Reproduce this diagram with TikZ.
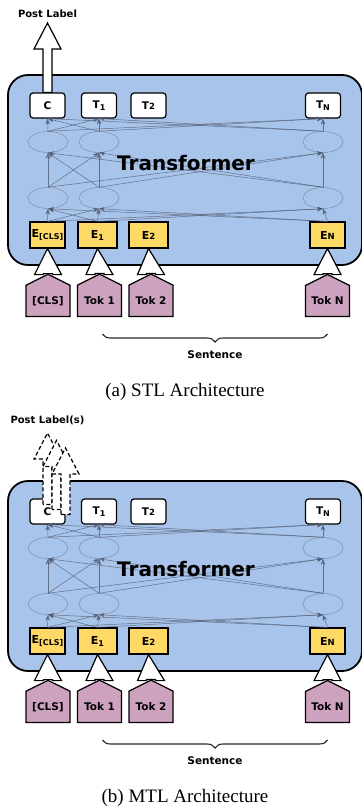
\documentclass[tikz,border=0pt]{standalone}
\usepackage{fontspec}
\newfontfamily\dvsans{DejaVu Sans}
\newfontfamily\capfont{Liberation Serif}
\usepackage{tikz}
\usetikzlibrary{positioning, calc, shapes.geometric, shapes.symbols, arrows.meta, decorations.pathreplacing}
\definecolor{encblue}{RGB}{169,196,235}
\definecolor{embyellow}{RGB}{255,217,102}
\definecolor{tokpink}{RGB}{205,162,190}
\definecolor{hidgray}{RGB}{125,140,170}
\definecolor{linkgray}{RGB}{80,90,112}
\newcommand{\lowtxt}[1]{\raisebox{-2pt}{\fontsize{8}{9}\selectfont #1}}
\newcommand{\smalltxt}[1]{{\fontsize{8.5}{10}\selectfont #1}}
\tikzset{
Encoder/.style={
	draw, line width=1.8pt,
	rounded corners=20pt,
	fill=encblue,
	minimum width=354pt, minimum height=190pt
},
Out/.style={
	draw, line width=1.2pt,
	rounded corners=3pt,
	fill=white,
	minimum width=35pt, minimum height=25pt, inner sep=0pt,
	font=\dvsans\bfseries\fontsize{10.5}{12}\selectfont
},
Hidden/.style={
	draw=hidgray, ellipse, line width=0.5pt,
	minimum width=40pt, minimum height=21pt, inner sep=0pt
},
Emb/.style={
	draw, line width=1.2pt,
	fill=embyellow,
	minimum width=39pt, minimum height=26pt, inner sep=0pt,
	font=\dvsans\bfseries\fontsize{11}{13}\selectfont
},
Tok/.style={
	draw, line width=1.2pt,
	fill=tokpink,
	signal, signal to=north, signal pointer angle=127,
	minimum width=44pt, minimum height=39pt, inner sep=0pt,
	font=\dvsans\bfseries\fontsize{10.5}{12}\selectfont
},
Link/.style={
	draw=linkgray, opacity=0.8, line width=0.5pt,
	-{Stealth[length=6pt, width=4.5pt]}
},
BlockArrow/.style={
	draw, line width=1.2pt, fill=white,
	to path={let \p1=(\tikztostart), \p2=(\tikztotarget) in
		(\x1-4.5pt,\y1) -- (\x1-4.5pt,\y2-26pt) -- (\x1-13.5pt,\y2-26pt) -- (\x2,\y2)
		-- (\x1+13.5pt,\y2-26pt) -- (\x1+4.5pt,\y2-26pt) -- (\x1+4.5pt,\y1) -- cycle}
},
Lab/.style={
	inner sep=1pt,
	font=\dvsans\bfseries\fontsize{10}{12}\selectfont
},
Title/.style={
	inner sep=0pt,
	font=\dvsans\bfseries\fontsize{20}{24}\selectfont
},
Brace/.style={
	draw=black!85, line width=1.1pt,
	decorate, decoration={brace, mirror, amplitude=8pt}
},
Sent/.style={
	midway, below=15pt, inner sep=1pt,
	font=\dvsans\bfseries\fontsize{10.5}{12}\selectfont
},
Caption/.style={
	inner sep=0pt,
	font=\capfont\fontsize{19}{22}\selectfont
}
}

\begin{document}
\begin{tikzpicture}[x=1pt, y=-1pt]
	\useasboundingbox (0,0) rectangle (361,810);
	\foreach \pn/\dy/\lbl/\capt in {a/0/{Post Label}/{(a) STL Architecture}, b/406/{Post Label(s)}/{(b) MTL Architecture}}{
	\begin{scope}[yshift=-\dy pt]
	\node[Encoder] (enc\pn) at (185,170) {};

	% outputs, hidden layers, embeddings
	\node[Out] (oc\pn) at (47.5,105.5) {C};
	\node[Out] (o1\pn) at (99,105.5) {T\lowtxt{1}};
	\node[Out] (o2\pn) at (148.5,105.5) {T\smalltxt{2}};
	\node[Out] (on\pn) at (323,105.5) {T\lowtxt{N}};
	\foreach \col/\xx in {c/48, 1/99, n/323}{
		\node[Hidden] (u\col\pn) at (\xx,142) {};
		\node[Hidden] (l\col\pn) at (\xx,198) {};
	}
	\node[Emb, minimum width=35pt] (ec\pn) at (47.5,235) {E\lowtxt{[CLS]}};
	\node[Emb] (e1\pn) at (97.5,235) {E\lowtxt{1}};
	\node[Emb] (e2\pn) at (148.5,235) {E\smalltxt{2}};
	\node[Emb, minimum width=35pt] (en\pn) at (327.5,235) {E\smalltxt{N}};

	\foreach \i in {c,1,n}{
		\foreach \j in {c,1,n}{
			\draw[Link] (e\i\pn.north) -- (l\j\pn.south);
			\draw[Link] (l\i\pn.north) -- (u\j\pn.south);
			\draw[Link] (u\i\pn.north) -- (o\j\pn.south);
		}
	}
	\node[Title] (tf\pn) at (186,163) {Transformer};

	% input tokens
	\foreach \col/\xx/\tx in {c/48/{[CLS]}, 1/99.5/{Tok 1}, 2/151/{Tok 2}, n/327.5/{Tok N}}{
		\node[Tok, anchor=south] (t\col\pn) at (\xx,317) {\tx};
		\draw[BlockArrow] (t\col\pn.north) to (e\col\pn.south);
	}

	% output label
	\node[Lab] (pl\pn) at (47.5,14) {\lbl};
	\ifnum\dy=0
		\draw[BlockArrow] (oc\pn.north) to ([yshift=-9pt]pl\pn.center);
	\else
		\foreach \k in {0,1,2}
			\draw[BlockArrow, dash pattern=on 4pt off 2.5pt]
				([xshift=\k*9pt, yshift=-6pt-\k*5pt]oc\pn.north) to ([xshift=\k*9pt, yshift=-13pt-\k*7.5pt]pl\pn.center);
	\fi

	\draw[Brace] ([xshift=3pt, yshift=-17pt]t1\pn.south) -- node[Sent] (s\pn) {Sentence} ([yshift=-17pt]tn\pn.south);
	\node[Caption] (cap\pn) at (185,392) {\capt};
	\end{scope}
	}
\end{tikzpicture}
\end{document}
